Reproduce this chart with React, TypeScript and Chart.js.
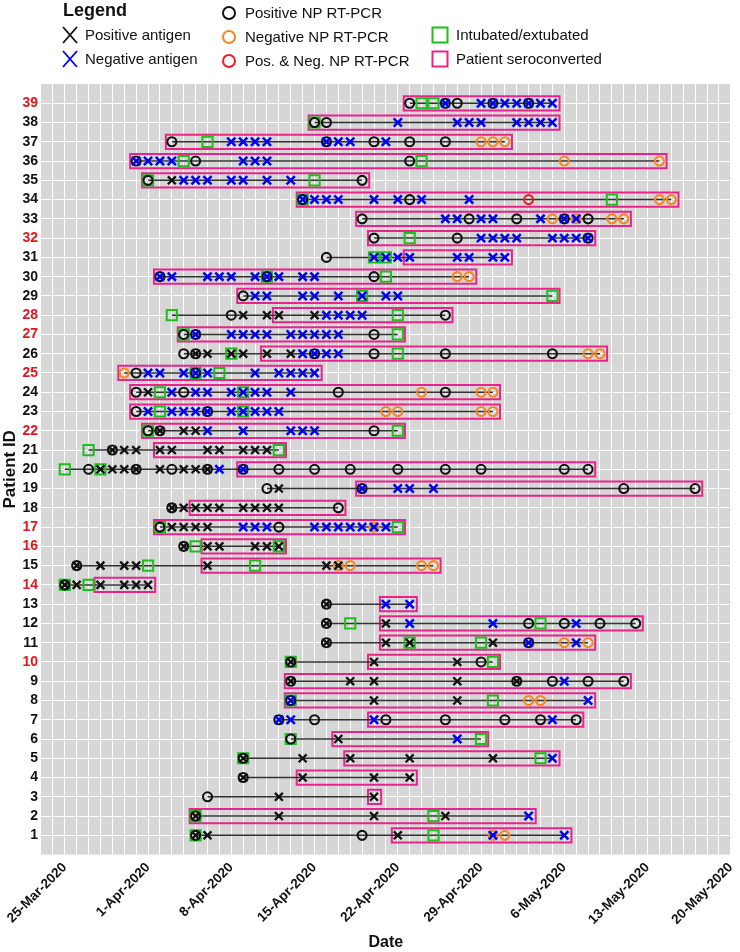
import React, { useEffect, useRef } from 'react';
import { Chart, registerables } from 'chart.js';

Chart.register(...registerables);

const FONT = "'Liberation Sans', Arial, Helvetica, sans-serif";

// x values are days counted from 25-Mar-2020 (day 0)
const xTickLabels = ['25-Mar-2020', '1-Apr-2020', '8-Apr-2020', '15-Apr-2020', '22-Apr-2020', '29-Apr-2020', '6-May-2020', '13-May-2020', '20-May-2020'];
const patientIds = [1, 2, 3, 4, 5, 6, 7, 8, 9, 10, 11, 12, 13, 14, 15, 16, 17, 18, 19, 20, 21, 22, 23, 24, 25, 26, 27, 28, 29, 30, 31, 32, 33, 34, 35, 36, 37, 38, 39];
const redPatientIds = [10, 14, 16, 17, 22, 25, 27, 28, 32, 39];

// each array: index i -> patient i + 1, list of days
const positivePCR: number[][] = [
  [11, 25], [11], [12], [15], [15], [19], [18, 21, 27, 32, 37, 40, 43], [19], [19, 38, 41, 44, 47], [19, 35],
  [22, 39], [22, 39, 42, 45, 48], [22], [0], [1], [10], [8, 18], [9, 23], [17, 25, 47, 53],
  [2, 6, 9, 12, 15, 18, 21, 24, 28, 32, 35, 42, 44], [4], [7, 8, 26], [6, 12], [6, 10, 23, 32], [6, 11],
  [10, 11, 21, 26, 32, 41], [10, 11, 26], [14, 32], [15], [8, 17, 26], [22], [26, 33, 44], [25, 34, 38, 42, 44],
  [20, 29], [7, 25], [6, 11, 29], [9, 22, 26, 29, 32], [21, 22], [29, 32, 33, 36, 39],
];
const negativePCR: number[][] = [
  [36, 37], [], [], [], [], [], [], [39, 40], [], [],
  [42, 44], [], [], [], [23, 24, 30, 31], [], [26], [], [],
  [], [], [], [27, 28, 35, 36], [30, 35, 36], [5],
  [44, 45], [], [], [], [33, 34], [], [], [41, 43, 46, 47],
  [50, 51], [], [42, 50], [35, 36, 37], [], [],
];
const posNegPCR: number[][] = [
  [], [], [], [], [], [], [], [], [], [],
  [], [], [], [], [], [], [], [], [],
  [], [], [], [], [], [],
  [], [], [], [], [], [], [], [],
  [39], [], [], [], [], [],
];
const positiveAntigen: number[][] = [
  [11, 12, 28], [11, 18, 26, 32], [18, 26], [15, 20, 26, 29], [15, 20, 24, 29, 36], [23], [], [26, 33], [19, 24, 26, 33, 38], [19, 26, 33],
  [22, 27, 29, 36], [22, 27], [22], [0, 1, 3, 5, 6, 7], [1, 3, 5, 6, 12, 22, 23], [10, 12, 13, 16, 17, 18], [9, 10, 11, 12],
  [9, 10, 11, 12, 13, 15, 16, 17, 18], [18],
  [3, 4, 5, 6, 8, 10, 11, 12], [4, 5, 6, 8, 9, 12, 13, 15, 16, 17], [8, 10, 11], [], [7], [],
  [11, 12, 14, 15, 17, 19], [], [15, 17, 18, 21], [], [], [], [], [],
  [], [9], [], [], [], [],
];
const negativeAntigen: number[][] = [
  [36, 42], [39], [], [], [41], [33], [18, 19, 26, 41], [19, 44], [42], [],
  [39, 43], [29, 36, 43], [27, 29], [], [], [], [15, 16, 17, 21, 22, 23, 24, 25, 26, 27], [], [25, 28, 29, 31],
  [13, 15], [], [12, 15, 19, 20, 21], [7, 9, 10, 11, 12, 14, 15, 16, 17, 18], [9, 11, 12, 14, 15, 16, 17, 19],
  [7, 8, 10, 11, 12, 16, 18, 19, 20, 21],
  [20, 21, 22, 23], [11, 14, 15, 16, 17, 19, 20, 21, 22, 23], [22, 23, 24, 25], [16, 17, 20, 21, 23, 25, 27, 28],
  [8, 9, 12, 13, 14, 16, 17, 18, 20, 21], [26, 27, 28, 29, 33, 34, 36, 37], [35, 36, 37, 38, 41, 42, 43, 44],
  [32, 33, 35, 36, 40, 42, 43],
  [20, 21, 22, 23, 26, 28, 30, 34], [10, 11, 12, 14, 15, 17, 19], [6, 7, 8, 9, 15, 16, 17], [14, 15, 16, 17, 22, 23, 24, 27],
  [28, 33, 34, 35, 38, 39, 40, 41], [32, 35, 36, 37, 38, 39, 40, 41],
];
const intubated: number[][] = [
  [11, 31], [11, 31], [], [], [15, 40], [19, 35], [], [19, 36], [], [19, 36],
  [29, 35], [24, 40], [], [0, 2], [7, 16], [11, 18], [8, 28], [], [],
  [0, 3], [2, 18], [7, 28], [8, 15], [8, 15], [11, 13],
  [14, 28], [10, 28], [9, 28], [25, 41], [17, 27], [26, 27], [29], [],
  [20, 46], [7, 21], [10, 30], [12], [21], [30, 31],
];
// seroconversion period [first day, last day]
const seroconverted: number[][] = [
  [28, 42], [11, 39], [26, 26], [20, 29], [24, 41], [23, 35], [26, 43], [19, 44], [19, 47], [26, 36],
  [27, 44], [27, 48], [27, 29], [3, 7], [12, 31], [12, 18], [8, 28], [11, 23], [25, 53],
  [15, 44], [8, 18], [7, 28], [6, 36], [6, 36], [5, 21],
  [17, 45], [10, 28], [18, 32], [15, 41], [8, 34], [29, 37], [26, 44], [25, 47],
  [20, 51], [7, 25], [6, 50], [9, 37], [21, 41], [29, 41],
];

const C_BLACK = '#111111';
const C_BLUE = '#0000F5';
const C_ORANGE = '#F8861E';
const C_RED = '#EE1C24';
const C_GREEN = '#1EBE1E';
const C_PINK = '#E8248C';
const C_LINE = '#333333';
const C_PANEL = '#D6D6D6';
const C_LABEL_RED = '#E8141C';

function toPoints(rows: number[][]) {
  const out: { x: number; y: number }[] = [];
  rows.forEach((days, i) => days.forEach((d) => out.push({ x: d, y: patientIds[i] })));
  return out;
}

const panelBg = {
  id: 'panelBg',
  beforeDraw(chart: any) {
    const { ctx, chartArea: a } = chart;
    ctx.save();
    ctx.fillStyle = C_PANEL;
    ctx.fillRect(a.left, a.top, a.right - a.left, a.bottom - a.top);
    ctx.restore();
  },
};

function markerSet(label: string, rows: number[][], style: string, color: string, radius: number, width: number, order: number) {
  return {
    label,
    data: toPoints(rows),
    showLine: false,
    pointStyle: style,
    pointRadius: radius,
    pointHoverRadius: radius,
    pointBorderColor: color,
    pointBackgroundColor: 'rgba(0,0,0,0)',
    pointBorderWidth: width,
    pointHoverBorderWidth: width,
    borderColor: color,
    backgroundColor: 'rgba(0,0,0,0)',
    order,
  };
}

export default function App() {
  const ref = useRef<HTMLCanvasElement | null>(null);

  useEffect(() => {
    if (!ref.current) return;
    const datasets: any[] = [];

    // seroconversion boxes
    seroconverted.forEach(([s, e], i) => {
      const y = patientIds[i];
      const x0 = s - 0.5, x1 = e + 0.6, y0 = y - 0.37, y1 = y + 0.37;
      datasets.push({
        label: 'sero' + y,
        data: [
          { x: x0, y: y0 }, { x: x1, y: y0 }, { x: x1, y: y1 }, { x: x0, y: y1 }, { x: x0, y: y0 }, { x: x1, y: y0 },
        ],
        showLine: true,
        borderColor: C_PINK,
        borderWidth: 2,
        borderJoinStyle: 'miter',
        pointRadius: 0,
        pointHoverRadius: 0,
        fill: false,
        order: 8,
      });
    });

    // timeline lines
    patientIds.forEach((p, i) => {
      const all = [
        ...positivePCR[i], ...negativePCR[i], ...posNegPCR[i], ...positiveAntigen[i], ...negativeAntigen[i], ...intubated[i],
      ];
      if (!all.length) return;
      const lo = Math.min(...all);
      const hi = Math.max(...all);
      datasets.push({
        label: 'line' + p,
        data: [{ x: lo, y: p }, { x: hi, y: p }],
        showLine: true,
        borderColor: C_LINE,
        borderWidth: 1.5,
        pointRadius: 0,
        pointHoverRadius: 0,
        fill: false,
        order: 7,
      });
    });

    datasets.push(markerSet('Intubated/extubated', intubated, 'rect', C_GREEN, 7.2, 2, 6));
    datasets.push(markerSet('Pos. & Neg. NP RT-PCR', posNegPCR, 'circle', C_RED, 4.5, 2.1, 5));
    datasets.push(markerSet('Negative NP RT-PCR', negativePCR, 'circle', C_ORANGE, 4.5, 2.1, 4));
    datasets.push(markerSet('Positive NP RT-PCR', positivePCR, 'circle', C_BLACK, 4.5, 2.1, 3));
    datasets.push(markerSet('Positive antigen', positiveAntigen, 'crossRot', C_BLACK, 5.6, 2.3, 2));
    datasets.push(markerSet('Negative antigen', negativeAntigen, 'crossRot', C_BLUE, 5.8, 2.5, 1));

    const chart = new Chart(ref.current, {
      type: 'scatter',
      data: { datasets },
      plugins: [panelBg],
      options: {
        animation: false,
        responsive: false,
        events: [],
        layout: { padding: { top: 84, right: 6, bottom: 0, left: 0 } },
        plugins: { legend: { display: false }, tooltip: { enabled: false } },
        scales: {
          x: {
            type: 'linear',
            min: -2,
            max: 56,
            border: { display: false },
            grid: { color: '#FFFFFF', lineWidth: 1, drawTicks: false },
            afterBuildTicks: (scale: any) => {
              const t: any[] = [];
              for (let v = -1; v <= 56; v++) t.push({ value: v });
              scale.ticks = t;
            },
            afterFit: (scale: any) => {
              scale.height = 952 - 854.6;
              scale.paddingLeft = 0;
              scale.paddingRight = 0;
            },
            ticks: {
              autoSkip: false,
              minRotation: 45,
              maxRotation: 45,
              padding: 5,
              color: C_BLACK,
              font: { family: FONT, size: 13.5, weight: 'bold' },
              callback: (v: any) => {
                const n = Number(v);
                return n >= 0 && n % 7 === 0 ? xTickLabels[n / 7] : '';
              },
            },
            title: {
              display: true,
              text: 'Date',
              color: C_BLACK,
              font: { family: FONT, size: 16, weight: 'bold' },
              padding: { top: 5, bottom: 0 },
            },
          },
          y: {
            type: 'linear',
            min: 0,
            max: 40,
            border: { display: false },
            grid: { color: '#FFFFFF', lineWidth: 1, drawTicks: false },
            afterBuildTicks: (scale: any) => {
              scale.ticks = patientIds.map((v) => ({ value: v }));
            },
            afterFit: (scale: any) => {
              scale.width = 41;
              scale.paddingTop = 0;
              scale.paddingBottom = 0;
            },
            ticks: {
              autoSkip: false,
              padding: 3,
              color: (ctx: any) => (ctx.tick && redPatientIds.includes(ctx.tick.value) ? C_LABEL_RED : C_BLACK),
              font: { family: FONT, size: 14, weight: 'bold' },
              callback: (v: any) => String(v),
            },
            title: {
              display: true,
              text: 'Patient ID',
              color: C_BLACK,
              font: { family: FONT, size: 17, weight: 'bold' },
              padding: { top: 0, bottom: 0 },
            },
          },
        },
      } as any,
    });
    return () => chart.destroy();
  }, []);

  const txt: React.CSSProperties = {
    position: 'absolute',
    fontFamily: FONT,
    fontSize: 15,
    lineHeight: '18px',
    color: C_BLACK,
    whiteSpace: 'nowrap',
  };
  const X = (cx: number, cy: number, color: string) => (
    <svg style={{ position: 'absolute', left: cx - 9, top: cy - 10 }} width={18} height={20}>
      <line x1={2} y1={2} x2={16} y2={18} stroke={color} strokeWidth={1.8} />
      <line x1={16} y1={2} x2={2} y2={18} stroke={color} strokeWidth={1.8} />
    </svg>
  );
  const O = (cx: number, cy: number, color: string) => (
    <svg style={{ position: 'absolute', left: cx - 8, top: cy - 8 }} width={16} height={16}>
      <circle cx={8} cy={8} r={6} fill="none" stroke={color} strokeWidth={2} />
    </svg>
  );
  const S = (cx: number, cy: number, color: string) => (
    <svg style={{ position: 'absolute', left: cx - 9, top: cy - 9 }} width={18} height={18}>
      <rect x={1.5} y={1.5} width={15} height={15} fill="none" stroke={color} strokeWidth={2} />
    </svg>
  );

  return (
    <div style={{ position: 'absolute', left: 0, top: 0, width: 740, height: 952, background: '#FFFFFF', overflow: 'hidden' }}>
      <canvas ref={ref} width={740} height={952} style={{ position: 'absolute', left: 0, top: 0, width: 740, height: 952 }} />
      <div style={{ ...txt, left: 63, top: 9.5 - 11, fontSize: 18, lineHeight: '22px', fontWeight: 'bold' }}>Legend</div>
      {X(70, 34.5, C_BLACK)}
      <div style={{ ...txt, left: 85, top: 34.5 - 9 }}>Positive antigen</div>
      {X(70, 58.5, C_BLUE)}
      <div style={{ ...txt, left: 85, top: 58.5 - 9 }}>Negative antigen</div>
      {O(229, 12.5, C_BLACK)}
      <div style={{ ...txt, left: 245, top: 12.5 - 9 }}>Positive NP RT-PCR</div>
      {O(229, 36.5, C_ORANGE)}
      <div style={{ ...txt, left: 245, top: 36.5 - 9 }}>Negative NP RT-PCR</div>
      {O(229, 60.5, C_RED)}
      <div style={{ ...txt, left: 245, top: 60.5 - 9 }}>Pos. &amp; Neg. NP RT-PCR</div>
      {S(440, 34.5, C_GREEN)}
      <div style={{ ...txt, left: 456, top: 34.5 - 9 }}>Intubated/extubated</div>
      {S(440, 58.5, C_PINK)}
      <div style={{ ...txt, left: 456, top: 58.5 - 9 }}>Patient seroconverted</div>
    </div>
  );
}
